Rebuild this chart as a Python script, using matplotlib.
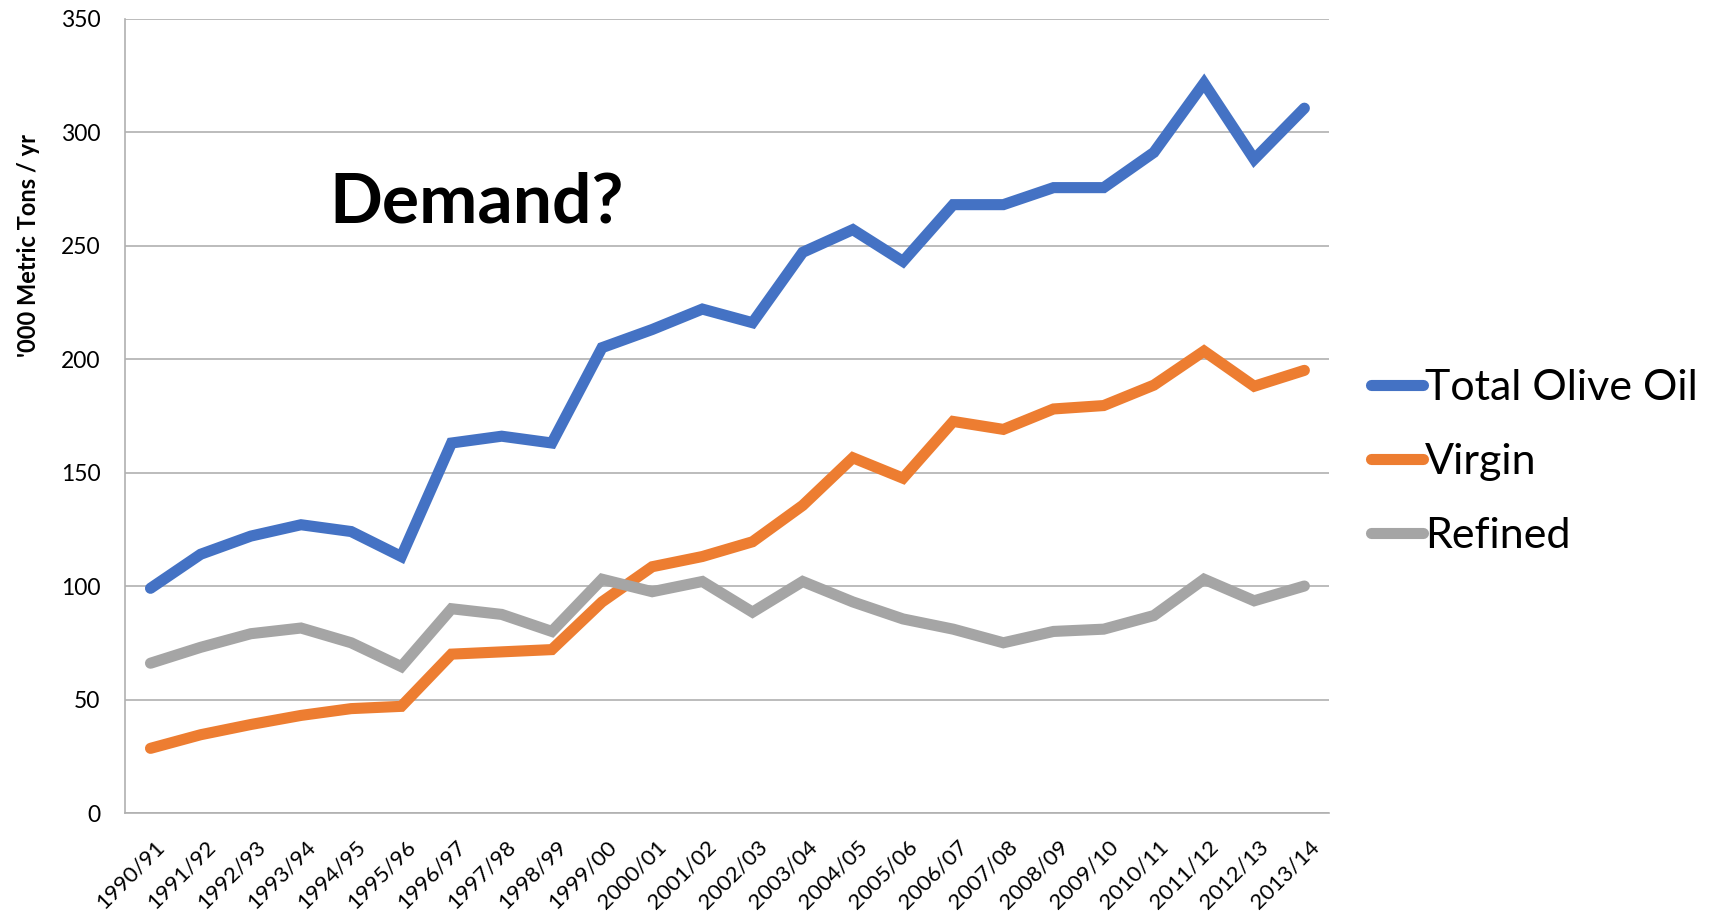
import matplotlib
matplotlib.use("Agg")
import matplotlib.pyplot as plt
import matplotlib.transforms as mtransforms

# Olive oil demand, '000 metric tons per year
seasons = ["1990/91", "1991/92", "1992/93", "1993/94", "1994/95", "1995/96",
           "1996/97", "1997/98", "1998/99", "1999/00", "2000/01", "2001/02",
           "2002/03", "2003/04", "2004/05", "2005/06", "2006/07", "2007/08",
           "2008/09", "2009/10", "2010/11", "2011/12", "2012/13", "2013/14"]
total = [99, 114, 122, 127, 124, 113, 163, 166, 163, 205, 213, 222,
         216, 247, 257, 243, 268, 268, 275.5, 275.5, 291, 321.5, 288, 310.5]
virgin = [28.5, 34.5, 39, 43, 46, 47, 70, 71, 72, 93, 108.5, 113,
          119.5, 135.5, 156.5, 147.5, 172.5, 169, 178, 179.5, 188.5, 203.5, 188, 195]
refined = [66, 73, 79, 81.5, 75, 64.5, 90, 87.5, 80, 103, 97.5, 102,
           88.5, 102, 93, 85.5, 81, 75, 80, 81, 87, 103, 93.5, 100]

series = [
    ("Total Olive Oil", total, "#4472C4"),
    ("Virgin", virgin, "#ED7D31"),
    ("Refined", refined, "#A5A5A5"),
]

fig = plt.figure(figsize=(17.11, 9.16), dpi=100)
ax = fig.add_axes([0.0733, 0.1124, 0.7037, 0.8674])

x = list(range(len(seasons)))
for name, vals, col in series:
    ax.plot(x, vals, color=col, lw=8, label=name,
            solid_capstyle="round", solid_joinstyle="miter")

ax.set_xlim(-0.5, len(seasons) - 0.5)
ax.set_ylim(0, 350)
ax.set_yticks(range(0, 351, 50))
ax.grid(axis="y", color="#B0B0B0", lw=1.2)
ax.set_axisbelow(True)

for s in ["top", "right"]:
    ax.spines[s].set_visible(False)
for s in ["left", "bottom"]:
    ax.spines[s].set_color("#B0B0B0")
    ax.spines[s].set_linewidth(1.2)
ax.tick_params(length=0)
ax.tick_params(axis="y", pad=18)
ax.tick_params(axis="x", pad=17)

ax.set_xticks(x)
ax.set_xticklabels(seasons, rotation=45, ha="right", va="top",
                   rotation_mode="anchor", fontsize=16, family="Lato")
# nudge the slanted labels a little to the right, like Excel does
shift = mtransforms.ScaledTranslation(3 / 72, 0, fig.dpi_scale_trans)
for lbl in ax.get_xticklabels():
    lbl.set_transform(lbl.get_transform() + shift)
for lbl in ax.get_yticklabels():
    lbl.set_fontsize(16.5)
    lbl.set_family("Lato")

ax.set_ylabel("'000 Metric Tons / yr", fontsize=17, fontweight="bold",
              family="Lato")
ax.yaxis.set_label_coords(-0.071, 0.714)

ax.text(3.57, 260, "Demand?", fontsize=50, fontweight="bold", family="Lato",
        ha="left", va="baseline")

ax.legend(loc="center left", bbox_to_anchor=(1.0345, 0.442), frameon=False,
          prop={"family": "Lato", "size": 31}, handlelength=1.2,
          handletextpad=0.05, labelspacing=0.83, borderpad=0,
          borderaxespad=0)

fig.savefig("out.png", dpi=100)
